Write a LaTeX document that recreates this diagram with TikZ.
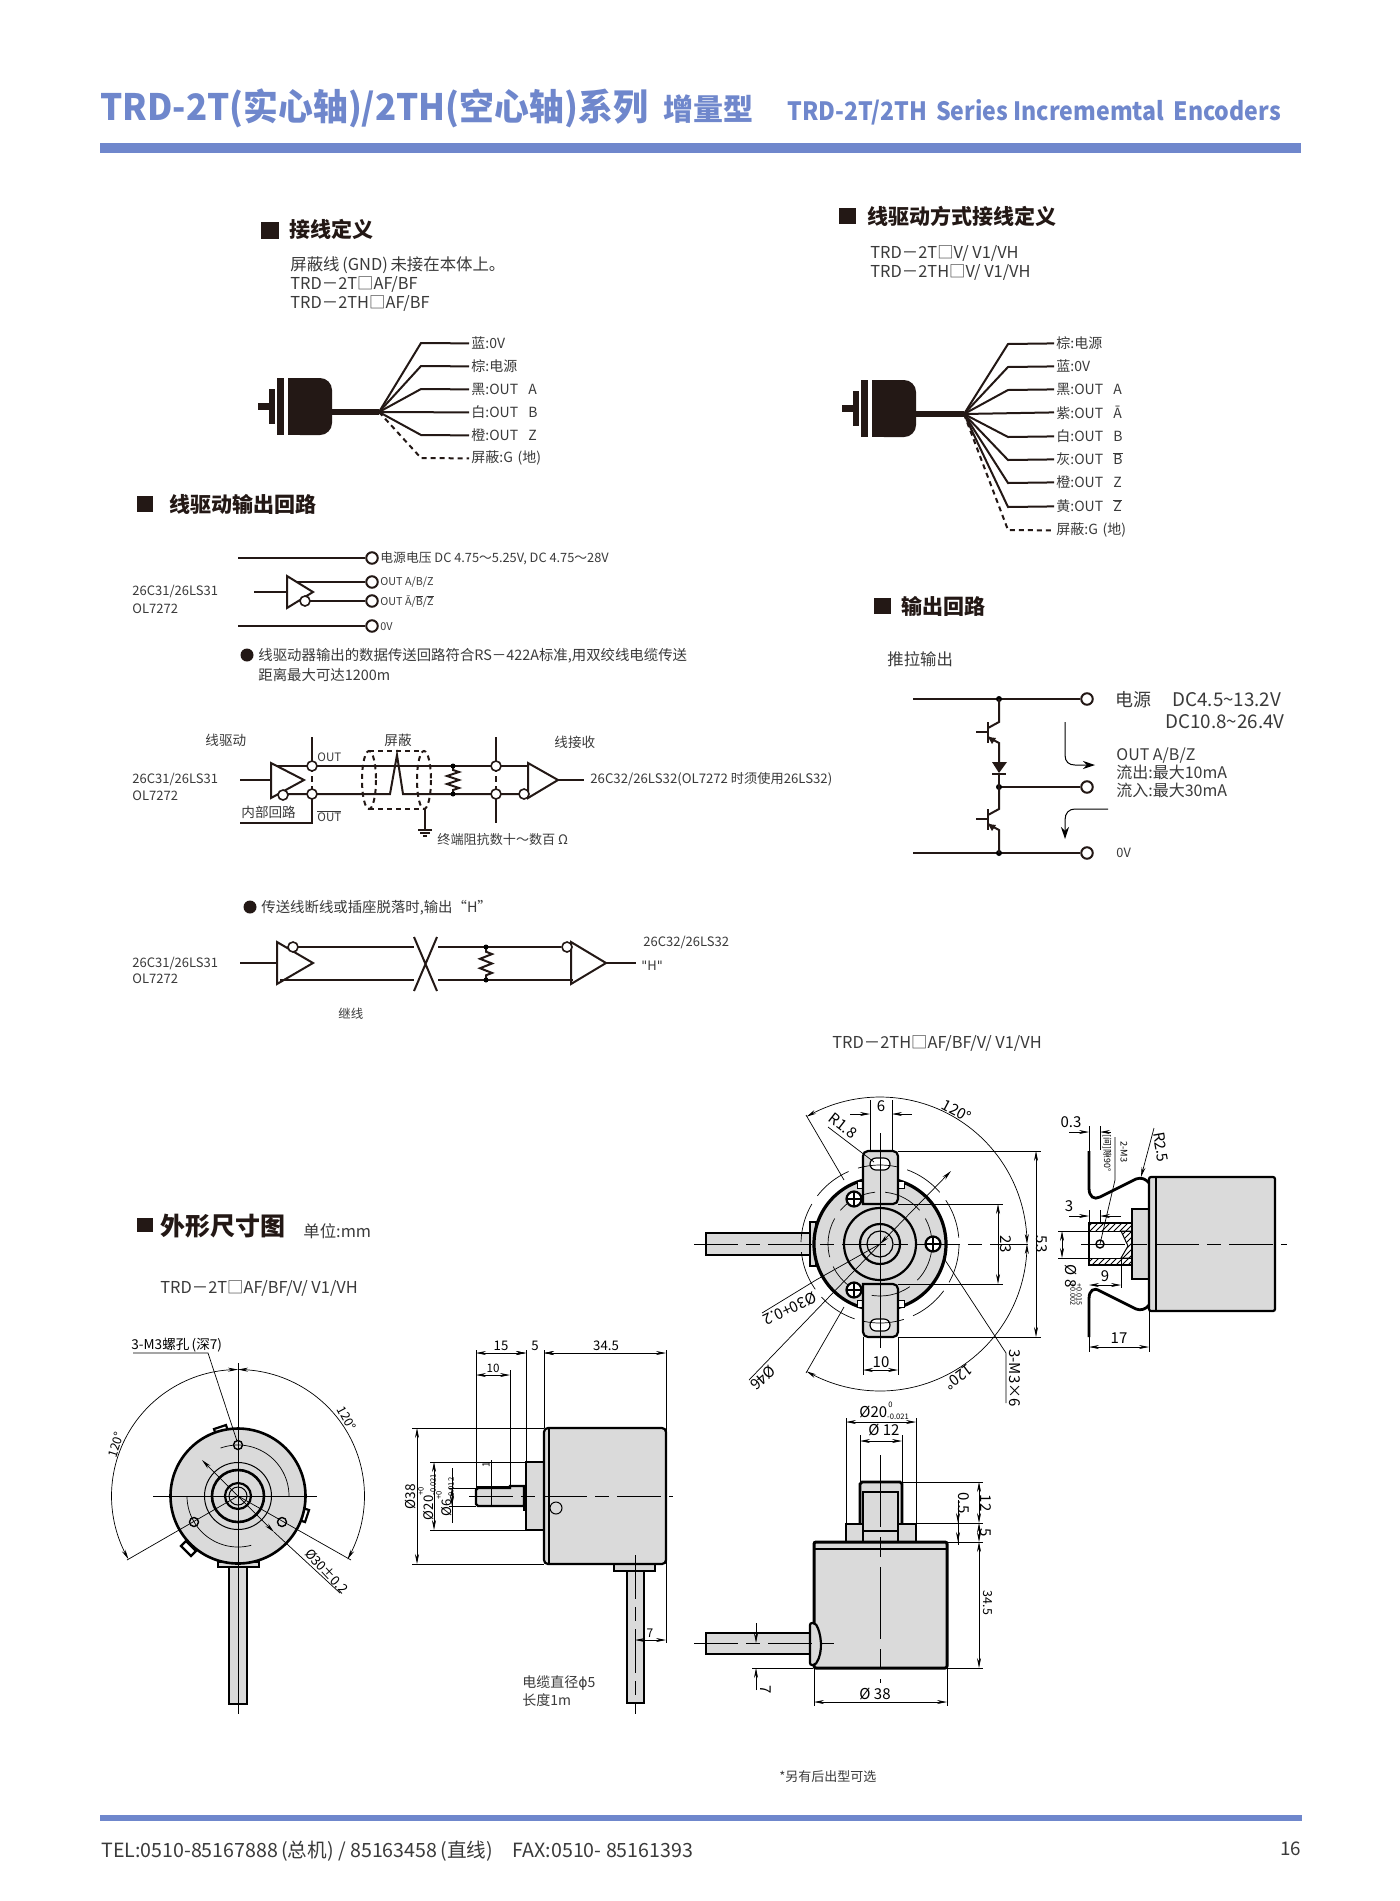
\documentclass[tikz,border=0pt]{standalone}
\usepackage{fontspec}
\setmainfont{Noto Sans CJK SC}
\newfontfamily\dejavu{DejaVu Sans}
\usetikzlibrary{arrows.meta,patterns}
\definecolor{barblue}{HTML}{6F87CC}
\definecolor{partgrey}{HTML}{DADADA}
\definecolor{inkblack}{HTML}{231815}
\definecolor{txtgrey}{HTML}{3A3A3A}
\newcommand{\ovl}[1]{\vbox{\hrule height .35pt \kern .5pt \hbox{#1}}}
\newcommand{\fpt}[1]{\fontsize{#1}{#1}\selectfont}
\newcommand{\tolr}[2]{\raisebox{-1.2pt}{\shortstack[l]{\fpt{3.8}#1\\[.3pt]\fpt{3.8}#2}}}
% plain arcs, angles as seen on the page
\newcommand{\arcp}[5]{plot[domain=#4:#5,samples=60] ({#1+#3*cos(\x)},{#2-#3*sin(\x)})}
\newcommand{\zigres}[3]{\pgfmathsetmacro{\zigh}{(#3-#2)/7}
  \draw[wire] (#1,#2) -- ++(0,\zigh) -- ++(6,.5*\zigh) -- ++(-12,\zigh) -- ++(12,\zigh) -- ++(-12,\zigh) -- ++(12,\zigh) -- ++(-6,.5*\zigh) -- (#1,#3);
  \fill (#1,#2) circle[radius=2.5]; \fill (#1,#3) circle[radius=2.5];}
\newcommand{\encicon}[2]{\begin{scope}[shift={(#1,#2)}]
  \fill[inkblack] (258,403) rectangle (269,410);
  \fill[inkblack] (269,389) rectangle (275,424);
  \fill[inkblack] (277,378) rectangle (284,435);
  \fill[inkblack,rounded corners=6pt] (288,378) -- (332,378) -- (332,435) -- (288,435) [sharp corners] -- cycle;
  \fill[inkblack] (288,378) rectangle (300,435);
  \end{scope}}
\tikzset{
  >={Stealth[length=5pt,width=2pt]},
  wire/.style={line width=1pt,draw=inkblack},
  term/.style={circle,draw=inkblack,line width=1pt,fill=white,minimum size=11.5pt*.5,inner sep=0pt},
  bubble/.style={circle,draw=inkblack,line width=.8pt,fill=white,minimum size=10pt*.5,inner sep=0pt},
  lab/.style={inner sep=1pt,anchor=west,text=txtgrey,yshift=-.2pt},
  wirelab/.style={lab,font=\fpt{7}},
  headsq/.style={fill=inkblack},
  headtxt/.style={inner sep=0pt,anchor=west,text=inkblack,font=\fpt{10.5}\bfseries},
  modeltxt/.style={lab,yshift=-.5pt,font=\fpt{8.2}},
  cirtxt/.style={lab,font=\fpt{6.8}},
  chiptxt/.style={lab,font=\fpt{6.5}},
  dimline/.style={line width=.35pt,draw=black},
  dimtxt/.style={inner sep=0pt,text=black,font=\fpt{7.5}},
  outl/.style={line width=1.1pt,draw=black},
  cline/.style={line width=.4pt,draw=black,dash pattern=on 22pt off 4pt on 7pt off 4pt},
}
\begin{document}
\begin{tikzpicture}[x=.5pt,y=-.5pt]
\useasboundingbox[fill=white] (0,0) rectangle (1400,1901);

% header
\node[anchor=base west,inner sep=0pt,text=barblue,font=\fpt{18.2}\bfseries] (title) at (100,120) {\scalebox{.957}[1]{TRD-2T(实心轴)/2TH(空心轴)系列}};
\node[anchor=base west,inner sep=0pt,text=barblue,font=\fpt{15}\bfseries] (titleb) at (663,120) {增量型};
\node[anchor=base west,inner sep=0pt,text=barblue,font=\fpt{12.6}\bfseries] (titlec) at (787,120) {\scalebox{.917}[1]{TRD-2T/2TH\, Series Incrememtal\, Encoders}};
\fill[barblue] (100,143) rectangle (1301,153);

% wiring, left
\fill[inkblack] (261,222) rectangle (279,239);
\node[headtxt] (h1) at (289,229) {接线定义};
\node[modeltxt] (m1a) at (288,264) {屏蔽线\,(GND)\,未接在本体上。};
\node[modeltxt] (m1b) at (288,283) {TRD－2T□AF/BF};
\node[modeltxt] (m1c) at (288,302) {TRD－2TH□AF/BF};
\encicon{0}{0}
\coordinate (fanl) at (379,412);
\draw[line width=2.6pt,inkblack] (332,412) -- (fanl);
\node[wirelab] (la) at (469,343) {蓝:0V};
\node[wirelab] (lb) at (469,366) {棕:电源};
\node[wirelab] (lc) at (469,389) {黑:OUT\,\,\, A};
\node[wirelab] (ld) at (469,412) {白:OUT\,\,\, B};
\node[wirelab] (le) at (469,435) {橙:OUT\,\,\, Z};
\node[wirelab] (lf) at (469,458) {屏蔽:G\,\,(地)};
\draw[wire] (fanl) -- (421,343) -- (la.west);
\draw[wire] (fanl) -- (421,366) -- (lb.west);
\draw[wire] (fanl) -- (421,389) -- (lc.west);
\draw[wire] (fanl) -- (ld.west);
\draw[wire] (fanl) -- (421,435) -- (le.west);
\draw[wire,dashed,dash pattern=on 2.5pt off 2pt] (fanl) -- (421,458) -- (lf.west);

% wiring, right
\fill[inkblack] (839,208) rectangle (856,224);
\node[headtxt] (h2) at (867,216) {线驱动方式接线定义};
\node[modeltxt] (m2a) at (868,252) {TRD－2T□V/ V1/VH};
\node[modeltxt] (m2b) at (868,271) {TRD－2TH□V/ V1/VH};
\encicon{584}{2}
\coordinate (fanr) at (964,414);
\draw[line width=3pt,inkblack] (916,414) -- (fanr);
\node[wirelab] (ra) at (1054,343) {棕:电源};
\node[wirelab] (rb) at (1054,366) {蓝:0V};
\node[wirelab] (rc) at (1054,389) {黑:OUT\,\,\, A};
\node[wirelab] (rd) at (1054,412) {紫:OUT\,\,\, Ā};
\node[wirelab] (re) at (1054,436) {白:OUT\,\,\, B};
\node[wirelab] (rf) at (1054,459) {灰:OUT\,\,\, \ovl{B}};
\node[wirelab] (rg) at (1054,482) {橙:OUT\,\,\, Z};
\node[wirelab] (rh) at (1054,506) {黄:OUT\,\,\, \ovl{Z}};
\node[wirelab] (ri) at (1054,530) {屏蔽:G\,\,(地)};
\draw[wire] (fanr) -- (1008,344) -- (ra.west);
\draw[wire] (fanr) -- (1008,367) -- (rb.west);
\draw[wire] (fanr) -- (1008,390) -- (rc.west);
\draw[wire] (fanr) -- (rd.west);
\draw[wire] (fanr) -- (1008,437) -- (re.west);
\draw[wire] (fanr) -- (1008,460) -- (rf.west);
\draw[wire] (fanr) -- (1008,483) -- (rg.west);
\draw[wire] (fanr) -- (1008,507) -- (rh.west);
\draw[wire,dash pattern=on 2.5pt off 2pt] (fanr) -- (1008,530) -- (ri.west);

% line driver output
\fill[inkblack] (137,496) rectangle (153,512);
\node[headtxt] (h3) at (169,504) {线驱动输出回路};
\node[term] (tv) at (372,558) {};
\node[term] (ta) at (372,582) {};
\node[term] (tb) at (372,601) {};
\node[term] (tz) at (372,626) {};
\node[cirtxt,font=\fpt{6.4}] (lv) at (378,558) {电源电压 DC 4.75～5.25V, DC 4.75～28V};
\node[cirtxt,font=\fpt{5.4}] (lo1) at (378,582) {OUT A/B/Z};
\node[cirtxt,font=\fpt{5.4}] (lo2) at (378,601) {OUT Ā/\ovl{B}/\ovl{Z}};
\node[cirtxt,font=\fpt{5.4}] (lo3) at (378,626) {0V};
\node[chiptxt] (d1a) at (130,591) {26C31/26LS31};
\node[chiptxt] (d1b) at (130,608) {OL7272};
\coordinate (vin) at (238,558);
\coordinate (zin) at (238,626);
\coordinate (in1) at (254,592);
\draw[wire] (vin) -- (tv);
\draw[wire] (zin) -- (tz);
\draw[wire] (in1) -- (287,592);
\draw[wire] (297,582) -- (ta);
\draw[wire] (310,601) -- (tb);
\draw[wire] (287,576) -- (287,608) -- (313,592) -- cycle;
\node[bubble] (bub1) at (305,601) {};
\fill[inkblack] (247,655) circle[radius=6.5];
\node[cirtxt,font=\fpt{7.2}] (n1a) at (256,655) {线驱动器输出的数据传送回路符合RS－422A标准,用双绞线电缆传送};
\node[cirtxt,font=\fpt{7.2}] (n1b) at (256,675) {距离最大可达1200m};

% driver to receiver
\node[cirtxt] (t2a) at (203,740) {线驱动};
\node[cirtxt] (t2b) at (382,740) {屏蔽};
\node[cirtxt] (t2c) at (552,742) {线接收};
\node[chiptxt] (d2a) at (130,779) {26C31/26LS31};
\node[chiptxt] (d2b) at (130,795) {OL7272};
\node[cirtxt] (d2c) at (239,812) {内部回路};
\node[cirtxt,font=\fpt{5.8}] (o2a) at (315,757) {OUT};
\node[cirtxt,font=\fpt{5.8}] (o2b) at (315,816) {\ovl{OUT}};
\node[chiptxt,font=\fpt{6.6}] (r2) at (588,779) {26C32/26LS32(OL7272 时须使用26LS32)};
\node[cirtxt,font=\fpt{6.55}] (g2) at (435,839) {终端阻抗数十～数百 Ω};
\coordinate (in2) at (240,780);
\coordinate (out2) at (584,780);
\coordinate (loop) at (240,823);
\coordinate (gnd) at (425,830);
\draw[wire] (in2) -- (271,780);
\draw[wire] (277,766) -- (528,766);
\draw[wire] (286,794) -- (390,794) -- (397,755) -- (403,794) -- (520,794);
\draw[wire] (271,763) -- (271,798) -- (304,780) -- cycle;
\draw[wire] (528,763) -- (528,798) -- (558,780) -- cycle;
\draw[wire] (558,780) -- (out2);
\node[bubble] (bub2) at (283,795) {};
\node[bubble] (bub3) at (524,794) {};
\draw[wire] (312,737) -- (312,766);
\draw[wire] (312,794) -- (312,823) -- (loop);
\draw[wire,dash pattern=on 3pt off 2pt] (312,766) -- (312,794);
\draw[wire] (496,737) -- (496,766);
\draw[wire] (496,794) -- (496,823);
\draw[wire,dash pattern=on 3pt off 2pt] (496,766) -- (496,794);
\node[bubble] (j1) at (312,766) {};
\node[bubble] (j2) at (312,794) {};
\node[bubble] (j3) at (496,766) {};
\node[bubble] (j4) at (496,794) {};
\zigres{453}{766}{794}
\draw[wire,dash pattern=on 2.5pt off 2pt] (369,751) -- (424,751) (369,809) -- (424,809);
\draw[wire,dash pattern=on 2.5pt off 2pt] (369,780) ellipse[x radius=7,y radius=29];
\draw[wire,dash pattern=on 2.5pt off 2pt] (424,780) ellipse[x radius=7,y radius=29];
\draw[wire] (425,809) -- (gnd);
\draw[wire] (418,830) -- (432,830) (420,833) -- (430,833) (423,836) -- (427,836);

% open line
\fill[inkblack] (250,907) circle[radius=6.5];
\node[cirtxt,font=\fpt{7.2}] (n3) at (259,907) {传送线断线或插座脱落时,输出“H”};
\node[chiptxt] (d3a) at (130,963) {26C31/26LS31};
\node[chiptxt] (d3b) at (130,978) {OL7272};
\node[chiptxt] (r3a) at (641,942) {26C32/26LS32};
\node[chiptxt] (r3b) at (639,965) {{\dejavu\symbol{34}}H{\dejavu\symbol{34}}};
\node[cirtxt,font=\fpt{6.2}] (r3c) at (336,1013) {继线};
\coordinate (in3) at (240,963);
\coordinate (out3) at (636,963);
\draw[wire] (in3) -- (277,963);
\draw[wire] (298,947) -- (414,947) (438,947) -- (561,947);
\draw[wire] (280,980) -- (414,980) (438,980) -- (573,980);
\draw[wire] (277,942) -- (277,984) -- (313,963) -- cycle;
\draw[wire] (571,942) -- (571,984) -- (606,963) -- cycle;
\draw[wire] (606,963) -- (out3);
\node[bubble] (bub4) at (293,947) {};
\node[bubble] (bub5) at (567,947) {};
\draw[wire] (414,937) -- (437,991) (437,937) -- (414,991);
\zigres{486}{947}{980}

% push-pull output
\fill[inkblack] (874,598) rectangle (891,614);
\node[headtxt] (h4) at (901,606) {输出回路};
\node[modeltxt] (pp) at (885,658) {推拉输出};
\node[term] (pv) at (1087,699) {};
\node[term] (po) at (1087,787) {};
\node[term] (pz) at (1087,853) {};
\coordinate (pvi) at (913,699);
\coordinate (pzi) at (913,853);
\coordinate (jv) at (999,699);
\coordinate (jo) at (999,787);
\coordinate (jz) at (999,853);
\draw[wire] (pvi) -- (pv);
\draw[wire] (pzi) -- (pz);
\draw[wire] (jo) -- (po);
\foreach \j in {jv,jo,jz} \fill (\j) circle[radius=3];
\draw[wire] (jv) -- (999,722) -- (988,728);
\draw[wire] (988,737) -- (999,743) -- (999,762);
\draw[wire,line width=1.3pt] (988,722) -- (988,743);
\draw[wire] (976,732) -- (988,732);
\fill[inkblack] (988,737) -- (996,738) -- (992,744) -- cycle;
\fill[inkblack] (992,762) -- (1007,762) -- (999,773) -- cycle;
\draw[wire] (992,773.5) -- (1006,773.5);
\draw[wire] (999,773) -- (jo);
\draw[wire] (jo) -- (999,809) -- (988,815);
\draw[wire] (988,824) -- (999,830) -- (jz);
\draw[wire,line width=1.3pt] (988,809) -- (988,830);
\draw[wire] (976,819) -- (988,819);
\fill[inkblack] (988,824) -- (996,825) -- (992,831) -- cycle;
\coordinate (f1) at (1065,722);
\coordinate (f2) at (1095,765);
\coordinate (f3) at (1108,809);
\coordinate (f4) at (1065,839);
\draw[dimline,line width=.5pt,-{Stealth[length=6pt,width=4pt]}] (f1) -- (1065,755) .. controls (1065,762) and (1069,765) .. (1075,765) -- (f2);
\draw[dimline,line width=.5pt,-{Stealth[length=6pt,width=4pt]}] (f3) -- (1075,809) .. controls (1069,809) and (1065,813) .. (1065,820) -- (f4);
\node[lab,font=\fpt{9}] (pa) at (1113,699) {电源};
\node[lab,font=\fpt{9.4}] (pb) at (1170,699) {DC4.5\textasciitilde13.2V};
\node[lab,font=\fpt{9.4}] (pc) at (1163,721) {DC10.8\textasciitilde26.4V};
\node[lab,font=\fpt{8}] (pd) at (1114,755) {OUT A/B/Z};
\node[lab,font=\fpt{8}] (pe) at (1114,772) {流出:最大10mA};
\node[lab,font=\fpt{8}] (pf) at (1114,790) {流入:最大30mA};
\node[lab,font=\fpt{6.4}] (pg) at (1114,852) {0V};

% outline drawings
\fill[inkblack] (137,1218) rectangle (153,1232);
\node[headtxt,font=\fpt{12.5}\bfseries] (h5) at (160,1226) {外形尺寸图};
\node[modeltxt] (unit) at (301,1230) {单位:mm};
\node[modeltxt] (m3) at (158,1287) {TRD－2T□AF/BF/V/ V1/VH};
\node[modeltxt] (m4) at (830,1042) {TRD－2TH□AF/BF/V/ V1/VH};

% solid shaft, front
\draw[outl,fill=white] (214,1429) -- (226,1425) -- (228,1431) -- (216,1435) -- cycle;
\draw[outl,fill=white] (303,1508) -- (309,1510) -- (305,1522) -- (299,1520) -- cycle;
\draw[outl,fill=white] (186,1541) -- (196,1551) -- (191,1556) -- (181,1546) -- cycle;
\draw[outl,fill=partgrey] (229,1567) rectangle (247,1704);
\draw[outl,fill=partgrey] (218,1562) rectangle (259,1567);
\draw[outl,line width=1.3pt,fill=partgrey] (238,1496) circle[radius=67.5];
\draw[line width=.5pt,fill=partgrey] (238,1496) circle[radius=33.5];
\draw[outl,line width=1.3pt] (238,1496) circle[radius=26];
\draw[outl] (238,1496) circle[radius=13];
\draw[line width=.5pt] (238,1496) circle[radius=9];
\draw[dimline] (153,1496) -- (317,1496);
\draw[dimline] (238,1363) -- (238,1714);
\draw[dimline] \arcp{238}{1496}{51}{0}{110};
\draw[dimline] \arcp{238}{1496}{51}{180}{285};
\foreach \hx/\hy in {238/1445,194/1522,282/1522} \draw[line width=.7pt] (\hx,\hy) circle[radius=4.5];
\draw[dimline,<->] \arcp{238}{1496}{126.5}{-30}{90};
\draw[dimline,<->] \arcp{238}{1496}{126.5}{90}{210};
\draw[dimline] (127,1560) -- (238,1496) -- (351,1560);
\node[dimtxt,rotate=72,font=\fpt{6.2}] (a120a) at (116,1445) {120°};
\node[dimtxt,rotate=-62,font=\fpt{6.2}] (a120b) at (347,1418) {120°};
\node[dimtxt,font=\fpt{6.8},anchor=west] (m3hole) at (131,1345) {3-M3螺孔\,(深7)};
\draw[dimline] (133,1353) -- (208,1353) -- (237,1441);
\draw[dimline,<->] (202,1460) -- (274,1532);
\draw[dimline] (274,1532) -- (340,1593);
\node[dimtxt,rotate=-47,font=\fpt{6.6}] (d30a) at (327,1571) {Ø30±0.2};

% solid shaft, side
\draw[outl,fill=partgrey] (627,1570) rectangle (644,1703);
\draw[outl,fill=partgrey] (614,1564) rectangle (655,1571);
\draw[outl,fill=partgrey] (526,1462) rectangle (544,1530);
\draw[outl,fill=partgrey] (524,1487) rectangle (526,1510);
\draw[outl,fill=partgrey] (510,1488) -- (510,1486) -- (524,1486) -- (524,1506) -- (478,1506) -- (476,1504) -- (476,1490) -- (478,1488) -- cycle;
\draw[outl,fill=partgrey,rounded corners=2pt] (544,1428) -- (666,1428) -- (666,1564) -- (544,1564) -- cycle;
\draw[outl] (549,1428) -- (549,1564);
\draw[line width=.5pt] (556,1508) circle[radius=6];
\draw[cline] (469,1496) -- (673,1496);
\draw[cline] (635,1555) -- (635,1714);
\draw[dimline] (476,1350) -- (476,1488) (526,1350) -- (526,1462) (544,1350) -- (544,1428) (666,1350) -- (666,1643) (510,1370) -- (510,1486);
\draw[dimline,<->] (476,1353) -- (526,1353);
\draw[dimline,->] (551,1353) -- (544,1353);
\draw[dimline,->] (519,1353) -- (526,1353);
\draw[dimline,<->] (544,1353) -- (666,1353);
\draw[dimline,<->] (476,1375) -- (510,1375);
\node[dimtxt,font=\fpt{6.6}] (s15) at (501,1346) {15};
\node[dimtxt,font=\fpt{6.6}] (s5) at (535,1346) {5};
\node[dimtxt,font=\fpt{6.6}] (s34) at (606,1346) {34.5};
\node[dimtxt,font=\fpt{5.8}] (s10) at (493,1368) {10};
\draw[dimline] (412,1428) -- (544,1428) (412,1564) -- (544,1564) (430,1462) -- (526,1462) (430,1530) -- (526,1530) (449,1488) -- (476,1488) (449,1506) -- (476,1506);
\draw[dimline,<->] (417,1428) -- (417,1564);
\draw[dimline,<->] (434,1462) -- (434,1530);
\draw[dimline,<->] (452,1488) -- (452,1506);
\draw[dimline] (452,1468) -- (452,1523);
\node[dimtxt,rotate=90,font=\fpt{6.8}] (s38) at (411,1497) {Ø38};
\node[dimtxt,rotate=90,font=\fpt{6.6}] (s20) at (427,1497) {Ø20\tolr{+0}{-0.021}};
\node[dimtxt,rotate=90,font=\fpt{6.6}] (s6) at (445,1497) {Ø6\tolr{+0}{-0.012}};
\draw[dimline] (491,1460) -- (491,1507);
\node[dimtxt,rotate=90,font=\fpt{5}] (s1) at (486,1465) {1};
\draw[dimline] (476,1486) -- (510,1486);
\draw[dimline,<->] (635,1640) -- (666,1640);
\node[dimtxt,font=\fpt{6}] (s7) at (650,1633) {7};
\node[cirtxt,font=\fpt{7}] (cb1) at (520,1683) {电缆直径{\dejavu ϕ}5};
\node[cirtxt,font=\fpt{7}] (cb2) at (520,1700) {长度1m};

% hollow shaft, front
\draw[outl,fill=partgrey] (706,1233) rectangle (810,1255);
\draw[outl,fill=partgrey] (810,1222) rectangle (816,1266);
\draw[outl,line width=1.6pt,fill=partgrey] (880,1244) circle[radius=66];
\foreach \ny in {1181,1300} {
  \draw[dimline,fill=white] (857,\ny) rectangle (863,{\ny+7});
  \draw[dimline,fill=white] (898,\ny) rectangle (904,{\ny+7}); }
\draw[outl,fill=partgrey,rounded corners=2.5pt] (863,1204) -- (863,1151) -- (898,1151) -- (898,1204) [sharp corners] -- cycle;
\draw[outl,fill=partgrey,rounded corners=2.5pt] (863,1284) -- (863,1337) -- (898,1337) -- (898,1284) [sharp corners] -- cycle;
\draw[line width=.6pt,fill=white,rounded corners=3pt] (870,1158) rectangle (890,1170);
\draw[line width=.6pt,fill=white,rounded corners=3pt] (870,1319) rectangle (890,1331);
\draw[dimline,dash pattern=on 20pt off 5pt] (880,1244) circle[radius=79];
\draw[dimline,dash pattern=on 20pt off 5pt] (880,1244) circle[radius=52];
\draw[outl] (880,1244) circle[radius=36];
\draw[outl] (880,1244) circle[radius=20];
\draw[line width=.6pt] (880,1244) circle[radius=13];
\foreach \sx/\sy in {854/1199,933/1244,854/1290} {
  \draw[outl,fill=white] (\sx,\sy) circle[radius=7.5];
  \draw[line width=1.1pt] ({\sx-7.5},\sy) -- ({\sx+7.5},\sy) (\sx,{\sy-7.5}) -- (\sx,{\sy+7.5}); }
\draw[cline] (694,1244) -- (1028,1244);
\draw[dimline] (880,1133) -- (880,1348);
\draw[dimline,<->] \arcp{880}{1244}{147}{0}{120};
\draw[dimline,<->] \arcp{880}{1244}{147}{-120}{0};
\draw[dimline] (806,1115) -- (844,1180) (806,1373) -- (844,1307);
\node[dimtxt,rotate=-28] (b120a) at (957,1111) {120°};
\node[dimtxt,rotate=217] (b120b) at (959,1377) {120°};
\draw[dimline] (870,1100) -- (870,1151) (892,1100) -- (892,1151);
\draw[dimline,<-] (870,1114) -- (850,1114);
\draw[dimline,<-] (892,1114) -- (912,1114);
\node[dimtxt] (b6) at (881,1106) {6};
\node[dimtxt,rotate=-38] (br18) at (843,1126) {R1.8};
\draw[dimline] (828,1127) -- (874,1162);
\draw[dimline] (898,1204) -- (1003,1204) (898,1284) -- (1003,1284) (898,1151) -- (1041,1151) (898,1337) -- (1041,1337);
\draw[dimline,<->] (998,1204) -- (998,1284);
\draw[dimline,<->] (1036,1151) -- (1036,1337);
\node[dimtxt,rotate=-90] (b23) at (1006,1244) {23};
\node[dimtxt,rotate=-90] (b53) at (1042,1244) {53};
\draw[dimline] (863,1337) -- (863,1375) (898,1337) -- (898,1375);
\draw[dimline,<->] (863,1370) -- (898,1370);
\node[dimtxt] (b10) at (881,1362) {10};
\draw[dimline,<->] (951,1171) -- (880,1244);
\draw[dimline] (880,1244) -- (816,1280) -- (762,1313);
\node[dimtxt,rotate=205] (b30) at (790,1309) {Ø30+0.2};
\draw[dimline] (749,1380) -- (880,1244);
\node[dimtxt,rotate=222] (b46) at (763,1378) {Ø46};
\draw[dimline] (945,1260) -- (1006,1353) -- (1006,1403);
\node[dimtxt,rotate=-90] (bm3) at (1015,1378) {3-M3×6};

% hollow shaft, side
\draw[outl,fill=white] (1089,1223) rectangle (1132,1265);
\draw[line width=.5pt,pattern=north east lines] (1089,1223) rectangle (1132,1231);
\draw[line width=.5pt,pattern=north east lines] (1089,1258) rectangle (1132,1265);
\draw[line width=.5pt,pattern=north east lines] (1121,1231) -- (1132,1231) -- (1132,1258) -- (1121,1258) -- (1128,1246) -- cycle;
\draw[outl,fill=partgrey] (1132,1209) rectangle (1149,1279);
\draw[outl,fill=partgrey,rounded corners=1pt] (1149,1177) rectangle (1275,1311);
\draw[outl] (1156,1177) -- (1156,1311);
\draw[cline] (1081,1244) -- (1287,1244);
\draw[line width=.7pt] (1100,1244) circle[radius=4];
\draw[outl,line width=1.4pt] (1089,1151) -- (1089,1188) .. controls (1089,1197) and (1094,1200) .. (1100,1197) -- (1136,1179) .. controls (1141,1177) and (1146,1179) .. (1149,1183);
\draw[outl,line width=1.4pt] (1089,1337) -- (1089,1299) .. controls (1089,1290) and (1094,1287) .. (1100,1291) -- (1136,1309) .. controls (1141,1311) and (1146,1309) .. (1149,1305);
\node[dimtxt] (c03) at (1071,1122) {0.3};
\draw[dimline,->] (1069,1132) -- (1089,1132);
\draw[dimline,<-] (1100,1132) -- (1111,1132);
\draw[dimline] (1089,1126) -- (1089,1151) (1100,1126) -- (1100,1150);
\node[dimtxt,rotate=-90,font=\fpt{4.4}] (c90) at (1107,1153) {[间]隙90°};
\node[dimtxt,rotate=-90,font=\fpt{4.6}] (cm3) at (1124,1152) {2-M3};
\draw[dimline] (1115,1137) -- (1115,1180) -- (1100,1244);
\node[dimtxt,rotate=-80] (cr) at (1161,1147) {R2.5};
\draw[dimline,->] (1154,1128) -- (1141,1177);
\node[dimtxt] (c3) at (1069,1206) {3};
\draw[dimline,->] (1069,1216) -- (1089,1216);
\draw[dimline,->] (1121,1216) -- (1100,1216);
\draw[dimline] (1089,1210) -- (1089,1223) (1100,1210) -- (1100,1223);
\draw[dimline] (1058,1231) -- (1089,1231) (1058,1258) -- (1089,1258);
\draw[dimline,<->] (1062,1231) -- (1062,1258);
\node[dimtxt,rotate=-90] (c8) at (1071,1276) {Ø 8};
\node[dimtxt,rotate=-90,font=\fpt{3.6},align=left] (c8b) at (1076,1294) {+0.015\\[-.5pt]+0.002};
\draw[dimline,<->] (1089,1285) -- (1121,1285);
\draw[dimline] (1121,1258) -- (1121,1288);
\node[dimtxt] (c9) at (1105,1276) {9};
\draw[dimline] (1149,1311) -- (1149,1352) (1089,1337) -- (1089,1352);
\draw[dimline,<->] (1089,1347) -- (1149,1347);
\node[dimtxt] (c17) at (1119,1338) {17};

% hollow shaft, top
\draw[outl,line width=1.4pt,fill=partgrey] (860,1524) -- (860,1484) -- (862,1482) -- (900,1482) -- (902,1484) -- (902,1524);
\draw[outl,fill=partgrey] (846,1542) -- (846,1524) -- (916,1524) -- (916,1542);
\draw[outl,fill=partgrey] (863,1492) rectangle (898,1542);
\draw[outl] (863,1531) -- (898,1531);
\draw[outl,line width=1.5pt,fill=partgrey,rounded corners=1pt] (814,1542) rectangle (947,1668);
\draw[outl] (814,1549) -- (947,1549);
\draw[dimline,dash pattern=on 36pt off 5pt on 10pt off 5pt] (880,1455) -- (880,1683);
\draw[outl,fill=partgrey] (706,1633) rectangle (810,1654);
\draw[outl,fill=partgrey,rounded corners=1pt] (810,1623) -- (815,1623) .. controls (821,1632) and (824,1652) .. (815,1665) -- (810,1665) -- cycle;
\draw[cline] (694,1643) -- (837,1643);
\draw[dimline] (846,1418) -- (846,1524) (916,1418) -- (916,1524) (860,1435) -- (860,1482) (902,1435) -- (902,1482);
\draw[dimline,<->] (846,1422) -- (916,1422);
\draw[dimline,<->] (860,1441) -- (902,1441);
\node[dimtxt,anchor=west] (t20) at (859,1411) {Ø20\tolr{\,0}{-0.021}};
\node[dimtxt,anchor=west] (t12) at (868,1430) {Ø 12};
\draw[dimline] (902,1482) -- (983,1482) (916,1523) -- (983,1523) (947,1542) -- (983,1542) (947,1668) -- (983,1668);
\draw[dimline,<->] (979,1482) -- (979,1523);
\draw[dimline,<->] (979,1523) -- (979,1542);
\draw[dimline,<->] (979,1542) -- (979,1668);
\node[dimtxt,rotate=-90] (t12b) at (986,1503) {12};
\node[dimtxt,rotate=-90] (t5) at (986,1533) {5};
\node[dimtxt,rotate=-90] (t05) at (964,1503) {0.5};
\node[dimtxt,rotate=-90,font=\fpt{6.2}] (t34) at (988,1603) {34.5};
\draw[dimline] (958,1500) -- (958,1545);
\draw[dimline,<-] (958,1523) -- (958,1508);
\draw[dimline,<-] (958,1542) -- (958,1527);
\draw[dimline] (814,1668) -- (814,1706) (947,1668) -- (947,1706);
\draw[dimline,<->] (814,1702) -- (947,1702);
\node[dimtxt] (t38) at (875,1694) {Ø 38};
\draw[dimline,->] (756,1623) -- (756,1643);
\draw[dimline,->] (756,1690) -- (756,1668);
\draw[dimline] (752,1668) -- (813,1668);
\node[dimtxt,rotate=-90] (t7) at (766,1690) {7};

% footer
\node[cirtxt,font=\fpt{6.5}] (opt) at (777,1776) {*另有后出型可选};
\fill[barblue] (100,1815) rectangle (1302,1821);
\node[lab,font=\fpt{9.8}] (tel) at (99,1851) {TEL:0510-85167888\,(总机) / 85163458\,(直线)\quad FAX:0510- 85161393};
\node[lab,font=\fpt{9.4}] (pgno) at (1278,1848) {16};
\end{tikzpicture}
\end{document}
